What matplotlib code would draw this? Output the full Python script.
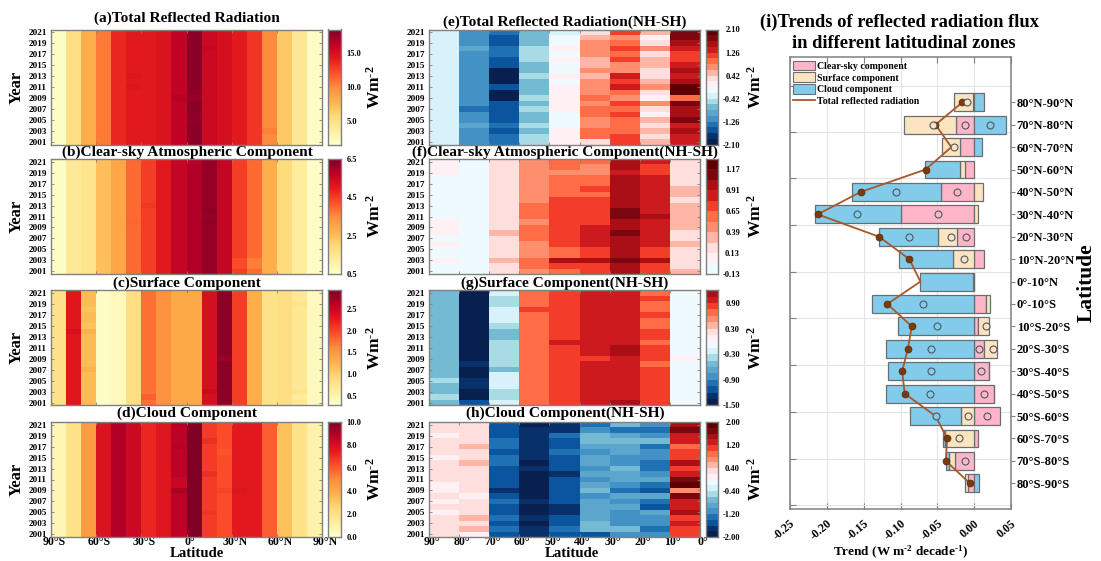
import numpy as np
import matplotlib
matplotlib.use("Agg")
import matplotlib.pyplot as plt
from matplotlib.colors import ListedColormap, BoundaryNorm, Normalize
from matplotlib.patches import Patch
from matplotlib.lines import Line2D
from matplotlib.transforms import ScaledTranslation

plt.rcParams['font.family'] = ['Liberation Serif', 'DejaVu Serif']
plt.rcParams['font.weight'] = 'bold'
plt.rcParams['mathtext.fontset'] = 'custom'
plt.rcParams['mathtext.rm'] = 'Liberation Serif:bold'
plt.rcParams['mathtext.bf'] = 'Liberation Serif:bold'
plt.rcParams['mathtext.it'] = 'Liberation Serif:bold'
plt.rcParams['mathtext.default'] = 'bf'
plt.rcParams['axes.unicode_minus'] = False

years = list(range(2021, 2000, -1))
year_ticks = list(range(2001, 2022, 2))

# ---- left panels: column climatology, 90S -> 90N, plus visible single-cell departures
a_cols = [1.8, 5.0, 8.0, 10.6, 13.6, 14.2, 14.2, 14.7, 16.0, 18.0, 15.5, 15.0, 14.2, 13.0, 10.0, 6.6, 4.2, 1.8]
b_cols = [0.6, 1.4, 1.6, 2.5, 3.0, 3.9, 4.5, 5.0, 5.6, 5.9, 6.2, 5.6, 4.5, 3.9, 2.8, 1.9, 1.3, 0.6]
c_cols = [0.8, 2.3, 1.2, 0.33, 0.42, 0.85, 1.75, 1.55, 1.35, 1.35, 2.4, 2.85, 2.05, 1.3, 0.8, 0.85, 0.7, 0.4]
d_cols = [0.7, 1.9, 4.5, 7.8, 9.0, 8.3, 7.2, 7.7, 8.7, 10.0, 6.7, 6.3, 7.5, 7.5, 5.9, 3.3, 1.9, 0.9]
a_cells = [(2009, 8, 16.4), (2009, 9, 17.5), (2010, 9, 17.7), (2018, 10, 15.8), (2003, 14, 10.4),
           (2013, 5, 14.5), (2011, 5, 14.5), (2006, 9, 17.8), (2005, 9, 17.8)]
b_cells = [(2003, 12, 4.3), (2002, 12, 4.3), (2003, 13, 3.7), (2002, 13, 3.7), (2010, 5, 3.95), (2013, 6, 4.6),
           (2021, 9, 5.8), (2012, 10, 6.3), (2010, 10, 6.3)]
c_cells = [(2014, 1, 2.38), (2014, 2, 1.28), (2018, 2, 1.13), (2015, 2, 1.13), (2009, 11, 2.78), (2003, 10, 2.47),
           (2002, 6, 1.85), (2019, 16, 0.77), (2002, 16, 0.64), (2003, 16, 0.77), (2007, 2, 1.28)]
d_cells = [(2009, 8, 9.1), (2011, 8, 8.4), (2010, 8, 8.4), (2018, 10, 7.0), (2012, 10, 7.0), (2009, 11, 6.5),
           (2005, 10, 6.85), (2016, 11, 6.15), (2009, 12, 7.7), (2021, 8, 8.9), (2017, 8, 8.9)]

# ---- right panels: colour-bin index read per year (2021 first), columns 90-80 ... 10-0
e_bins = [
    [-2]*21,
    [-6,-6,-6,-5,-6,-6,-6,-6,-6,-6,-6,-6,-6,-6,-7,-6,-6,-5,-6,-6,-6],
    [-7,-8,-8,-7,-7,-8,-8,-10,-10,-10,-8,-10,-10,-8,-8,-8,-8,-7,-8,-7,-7],
    [-4,-4,-4,-3,-3,-3,-4,-4,-3,-4,-4,-4,-3,-4,-3,-4,-4,-3,-4,-3,-3],
    [-2,-1,-1,0,-1,0,-1,-1,0,-1,0,0,0,0,0,-1,-1,-1,0,0,0],
    [1,2,3,3,3,2,2,3,2,3,3,3,4,3,4,4,3,3,4,4,1],
    [5,3,4,5,4,5,3,3,6,5,6,4,3,5,4,5,4,4,4,5,5],
    [2,0,1,3,1,2,2,1,1,2,3,1,0,3,1,0,2,1,2,1,2],
    [8,8,7,6,5,5,6,7,6,7,9,9,4,8,7,7,8,6,7,6,6],
]
f_bins = [
    [0,0,0,-1,-1,-1,-1,-1,-1,-1,-1,0,0,0,-1,0,-1,-1,0,-1,-1],
    [-1]*21,
    [1,1,1,1,1,1,1,1,1,1,1,1,1,2,1,1,1,1,2,1,1],
    [3,3,3,3,3,3,3,3,4,4,4,3,4,4,4,3,3,3,4,4,3],
    [4,4,3,4,4,4,4,5,5,5,5,5,5,5,5,5,4,4,7,5,4],
    [4,3,3,4,4,5,4,5,5,5,5,5,6,6,6,6,5,5,7,5,5],
    [7,7,6,7,7,7,7,7,7,8,8,7,7,8,7,7,7,7,8,7,7],
    [6,5,5,6,6,6,6,6,6,6,7,6,6,6,6,6,5,5,7,5,5],
    [1,1,1,1,1,2,2,1,2,2,2,2,2,1,1,2,1,1,1,1,2],
]
g_bins = [
    [-4,-4,-4,-4,-4,-4,-4,-4,-4,-4,-4,-4,-4,-4,-4,-4,-3,-4,-4,-3,-4],
    [-10,-10,-10,-10,-10,-10,-10,-10,-10,-10,-10,-10,-10,-9,-10,-10,-9,-9,-10,-10,-8],
    [-2,-3,-3,-2,-2,-2,-3,-4,-4,-3,-3,-3,-3,-3,-4,-2,-2,-2,-3,-3,-2],
    [4,4,4,5,4,4,4,4,4,4,4,4,4,4,4,4,4,4,4,4,4],
    [5,5,5,5,5,5,5,5,5,6,5,5,5,5,5,5,5,5,5,5,5],
    [6,6,6,6,6,6,6,6,6,6,6,6,5,6,6,6,6,6,6,6,6],
    [6,6,6,6,6,6,6,6,6,6,7,7,6,6,6,6,6,6,6,6,7],
    [4,5,4,4,5,4,4,5,5,4,5,5,5,4,5,5,5,5,5,5,5],
    [-1,-1,-1,-1,-1,-1,-1,-1,-1,-1,-1,-1,0,-1,-1,-1,-1,-1,-1,-1,-1],
]
h_bins = [
    [1,1,0,1,1,1,0,1,1,1,1,0,0,1,0,1,0,1,1,1,1],
    [1,1,1,1,2,1,1,2,1,1,1,1,1,0,1,1,1,2,1,2,0],
    [-8,-8,-8,-7,-7,-8,-7,-7,-8,-8,-8,-8,-9,-8,-7,-8,-8,-7,-8,-7,-8],
    [-10,-9,-9,-9,-9,-9,-9,-10,-9,-10,-10,-10,-10,-10,-9,-10,-10,-9,-10,-9,-9],
    [-9,-9,-7,-8,-8,-7,-8,-8,-8,-9,-8,-8,-8,-8,-8,-9,-9,-8,-8,-7,-8],
    [-7,-6,-4,-4,-5,-6,-5,-5,-6,-5,-6,-5,-4,-6,-5,-5,-5,-5,-4,-4,-8],
    [-4,-7,-5,-4,-5,-5,-6,-6,-4,-5,-5,-6,-7,-5,-6,-5,-6,-6,-6,-4,-6],
    [-6,-7,-6,-4,-7,-6,-6,-7,-7,-6,-5,-7,-8,-5,-7,-8,-5,-6,-6,-7,-6],
    [7,8,6,6,4,5,5,7,5,6,8,9,3,8,6,6,7,5,6,5,5],
]
e_step, f_step, g_step, h_step = 0.21, 0.13, 0.15, 0.20

# ---- panel i (80-90N first)
zones = ['80°N-90°N','70°N-80°N','60°N-70°N','50°N-60°N','40°N-50°N','30°N-40°N','20°N-30°N','10°N-20°N','0°-10°N',
         '0°-10°S','10°S-20°S','20°S-30°S','30°S-40°S','40°S-50°S','50°S-60°S','60°S-70°S','70°S-80°S','80°S-90°S']
clear_sky = [-0.001,-0.0245,-0.019,-0.0122,-0.0457,-0.0996,-0.023,0.0136,-0.002,0.0154,0.005,0.0136,0.0195,0.0263,0.0344,0.005,-0.0254,-0.008]
surface = [-0.026,-0.071,-0.0245,-0.0077,0.0122,0.005,-0.0263,-0.0285,0.0003,0.0059,0.0145,0.0168,0.0003,0.0003,-0.018,-0.04,-0.009,-0.004]
cloud = [0.013,0.0426,0.0113,-0.0462,-0.1196,-0.1168,-0.0797,-0.0729,-0.0711,-0.1386,-0.1033,-0.12,-0.1168,-0.12,-0.0688,-0.002,-0.004,0.0072]
total = [-0.016,-0.0525,-0.031,-0.066,-0.154,-0.2124,-0.129,-0.088,-0.073,-0.1178,-0.0847,-0.09,-0.0978,-0.0942,-0.0524,-0.0367,-0.0385,-0.0059]
total_filled = [1,1,0,1,1,1,1,1,0,1,1,1,1,1,0,1,1,1]
clear_sig = [None,-0.012,None,None,-0.023,-0.0494,-0.0113,None,None,None,None,0.0068,0.0095,0.013,0.0177,None,-0.0122,None]
surface_sig = [-0.010,-0.056,-0.027,None,None,None,-0.032,-0.014,None,None,0.016,0.0258,None,None,-0.0086,-0.02,None,None]
cloud_sig = [None,0.021,None,None,-0.106,-0.1585,-0.089,None,None,-0.0693,-0.051,-0.059,-0.058,-0.06,-0.052,None,None,None]
trend_ticks = [-0.25,-0.20,-0.15,-0.10,-0.05,0.00,0.05]

DIV = ['#07204f','#08306b','#0b559f','#2070b4','#4292c6','#5ca5cc','#74bad3','#a8dbe3','#d8f2fb','#eefaff',
       '#fff0f3','#ffdede','#ffb6a6','#ff8e6e','#ff6c46','#f43c2a','#cc1a1e','#a90f14','#7a0710','#5c0000']
GRAY = '#808080'
C_CLEAR, C_SURF, C_CLOUD = '#ffb6c8', '#fde4c0', '#82cbea'
W, H = 1101, 561
fig = plt.figure(figsize=(W/100, H/100), dpi=100)

def box(x0, y0, x1, y1, **kw):
    return fig.add_axes([x0/W, 1-y1/H, (x1-x0)/W, (y1-y0)/H], **kw)

def ftext(x, y, s, **kw):
    kw.setdefault('ha', 'center'); kw.setdefault('va', 'center'); kw.setdefault('zorder', -1)
    fig.text(x/W, 1-y/H, s, **kw)

def style_heat(ax, n):
    for s in ax.spines.values():
        s.set_color(GRAY); s.set_linewidth(1.0)
    ax.set_yticks(year_ticks)
    ax.tick_params(axis='both', direction='in', length=2, width=0.6, color=GRAY, top=True, right=True,
                   labelsize=6.6, pad=3)
    ax.tick_params(axis='x', pad=-1)
    ax.set_xlim(0, n); ax.set_ylim(2000.5, 2021.5)

def shift_xlabels(ax, px):
    off = ScaledTranslation(px/100, 0, fig.dpi_scale_trans)
    for lb in ax.get_xticklabels():
        lb.set_transform(lb.get_transform() + off)

UNIT = r'Wm$^{\text{-}2}$'
ROWS = [(29.5, 144.7), (159, 274), (290.3, 405.3), (422, 537)]
LEFT = [(a_cols, a_cells, 1.5, 18.4, [5, 10, 15], ['5.0', '10.0', '15.0'], '(a)Total Reflected Radiation', 18.5),
        (b_cols, b_cells, 0.5, 6.5, [0.5, 2.5, 4.5, 6.5], ['0.5', '2.5', '4.5', '6.5'], '(b)Clear-sky Atmospheric Component', 152.5),
        (c_cols, c_cells, 0.28, 2.93, [0.5, 1, 1.5, 2, 2.5], ['0.5', '1.0', '1.5', '2.0', '2.5'], '(c)Surface Component', 283),
        (d_cols, d_cells, 0, 10, [0, 2, 4, 6, 8, 10], ['0.0', '2.0', '4.0', '6.0', '8.0', '10.0'], '(d)Cloud Component', 413.7)]
cmap_seq = plt.get_cmap('YlOrRd')

def year_edges():
    return np.arange(2000.5, 2022.5, 1)

for r, (cols, cells, lo, hi, tks, tls, title, ty) in enumerate(LEFT):
    y0, y1 = ROWS[r]
    ax = box(51, y0, 322, y1)
    Z = np.tile(np.array(cols, float), (21, 1))
    for yr, c, v in cells:
        Z[yr-2001, c] = v
    norm = Normalize(lo, hi)
    ax.pcolormesh(np.arange(19), year_edges(), Z, cmap=cmap_seq, norm=norm)
    style_heat(ax, 18)
    ax.set_xticks([0, 3, 6, 9, 12, 15, 18])
    if r == 3:
        ax.set_xticklabels(['90°S', '60°S', '30°S', '0°', '30°N', '60°N', '90°N'], fontsize=8.5)
        shift_xlabels(ax, 3)
        ftext(197, 553.8, 'Latitude', fontsize=10.6, zorder=3)
    else:
        ax.set_xticklabels([])
    ftext(187, ty, title, fontsize=11.1)
    ftext(17, (y0+y1)/2, 'Year', fontsize=12, rotation=90)
    cax = box(328, y0, 341, y1)
    grad = np.linspace(lo, hi, 257)
    cax.pcolormesh([0, 1], grad, ((grad[:-1]+grad[1:])/2)[:, None], cmap=cmap_seq, norm=norm)
    cax.set_xticks([]); cax.yaxis.tick_right()
    cax.set_yticks(tks); cax.set_yticklabels(tls, fontsize=6)
    cax.tick_params(axis='y', length=0, pad=4)
    for s in cax.spines.values():
        s.set_color(GRAY); s.set_linewidth(1.0)
    ftext(375, (y0+y1)/2, UNIT, fontsize=12.5, rotation=90)

RIGHT = [(e_bins, e_step, -2.10, 2.10, [-2.10, -1.26, -0.42, 0.42, 1.26, 2.10], '(e)Total Reflected Radiation(NH-SH)', 22),
         (f_bins, f_step, -0.13, 1.30, [-0.13, 0.13, 0.39, 0.65, 0.91, 1.17], '(f)Clear-sky Atmospheric Component(NH-SH)', 152),
         (g_bins, g_step, -1.50, 1.20, [-1.50, -0.90, -0.30, 0.30, 0.90], '(g)Surface Component(NH-SH)', 283),
         (h_bins, h_step, -2.00, 2.00, [-2.00, -1.20, -0.40, 0.40, 1.20, 2.00], '(h)Cloud Component(NH-SH)', 413.7)]
cmap_div = ListedColormap(DIV)
for r, (bins, step, lo, hi, tks, title, ty) in enumerate(RIGHT):
    y0, y1 = ROWS[r]
    ax = box(429, y0, 700, y1)
    Z = (np.array(bins, float).T + 0.5) * step
    Z = Z[::-1]
    edges = step*np.arange(-10, 11)
    norm = BoundaryNorm(edges, 20)
    ax.pcolormesh(np.arange(10), year_edges(), Z, cmap=cmap_div, norm=norm)
    style_heat(ax, 9)
    ax.set_xticks(range(10))
    if r == 3:
        ax.set_xticklabels(['90°', '80°', '70°', '60°', '50°', '40°', '30°', '20°', '10°', '0°'], fontsize=8.5)
        shift_xlabels(ax, 3)
        ftext(572, 553.8, 'Latitude', fontsize=10.6, zorder=3)
    else:
        ax.set_xticklabels([])
    ftext(565, ty, title, fontsize=11.1)
    cax = box(706, y0, 718, y1)
    vis = edges[(edges > lo-1e-6) & (edges < hi+1e-6)]
    mids = (vis[:-1]+vis[1:])/2
    cax.pcolormesh([0, 1], vis, mids[:, None], cmap=cmap_div, norm=norm)
    cax.set_xticks([]); cax.yaxis.tick_right()
    cax.set_yticks(tks); cax.set_yticklabels(['%.2f' % t for t in tks], fontsize=6, ha='right')
    cax.set_ylim(lo, hi)
    cax.tick_params(axis='y', length=0, pad=15.8)
    for s in cax.spines.values():
        s.set_color(GRAY); s.set_linewidth(1.0)
    ftext(756, (y0+y1)/2, UNIT, fontsize=12.5, rotation=90)

# ---- panel i
axi = box(790, 57, 1011, 509)
ypos = np.arange(18, 0, -1)
pos_stack = np.zeros(18); neg_stack = np.zeros(18)
for vals, col in [(clear_sky, C_CLEAR), (surface, C_SURF), (cloud, C_CLOUD)]:
    v = np.array(vals)
    left = np.where(v >= 0, pos_stack, neg_stack)
    axi.barh(ypos, v, left=left, height=0.8, color=col, edgecolor='#6a6e72', linewidth=0.9, zorder=3)
    pos_stack += np.where(v >= 0, v, 0); neg_stack += np.where(v < 0, v, 0)
axi.plot(total, ypos, '-', color='#a5592c', lw=1.3, zorder=5)
for y, x, f in zip(ypos, total, total_filled):
    if f:
        axi.plot(x, y, 'o', ms=5, mfc='#7a3a0e', mec='#5a2a08', mew=0.5, zorder=6)
for sig, col in ((clear_sig, C_CLEAR), (surface_sig, C_SURF), (cloud_sig, C_CLOUD)):
    for y, x in zip(ypos, sig):
        if x is not None:
            axi.plot(x, y, 'o', ms=5, mfc=col, mec='#505860', mew=0.8, zorder=7)
axi.set_xlim(-0.25, 0.05); axi.set_ylim(-0.147, 20.02)
axi.set_xticks(trend_ticks)
axi.set_xticklabels(['%.2f' % t for t in trend_ticks], rotation=40, ha='right', rotation_mode='anchor', fontsize=8.5)
grid_y = [0.03, 2.1, 4.18, 6.28, 8.37, 10.43, 12.53, 14.62, 16.68, 18.74]
axi.set_yticks(grid_y); axi.set_yticklabels([])
axi.grid(True, color='#e4e4e4', lw=0.8, zorder=0)
axi.set_axisbelow(True)
axi.tick_params(axis='y', direction='in', length=4, width=0.8, color=GRAY, left=True, right=False)
axi.tick_params(axis='x', direction='in', length=4, width=0.8, color=GRAY, top=True, pad=6)
for s in axi.spines.values():
    s.set_color(GRAY); s.set_linewidth(1.1)
axr = axi.twinx()
axr.set_ylim(axi.get_ylim())
axr.set_yticks(ypos); axr.set_yticklabels(zones, fontsize=9)
axr.tick_params(axis='y', direction='out', length=3, width=0.8, color=GRAY, pad=1)
for s in axr.spines.values():
    s.set_visible(False)
handles = [Patch(fc=C_CLEAR, ec='#6a6e72', lw=0.8, label='Clear-sky component'),
           Patch(fc=C_SURF, ec='#6a6e72', lw=0.8, label='Surface component'),
           Patch(fc=C_CLOUD, ec='#6a6e72', lw=0.8, label='Cloud component'),
           Line2D([], [], color='#a5592c', lw=1.3, label='Total reflected radiation')]
leg = axr.legend(handles=handles, loc='upper left', bbox_to_anchor=(0.012, 0.992), frameon=False, fontsize=7.1,
                 handlelength=2.25, handleheight=1.1, handletextpad=0.25, labelspacing=0.18, borderpad=0, borderaxespad=0)
ftext(899, 22, '(i)Trends of reflected radiation flux', fontsize=13.3)
ftext(903.5, 43, 'in different latitudinal zones', fontsize=13.3)
ftext(901, 552, r'Trend (W m$^{\text{-}2}$ decade$^{\text{-}1}$)', fontsize=9.5)
ftext(1087, 283, 'Latitude', fontsize=15.5, rotation=90)

fig.savefig('out.png', dpi=100)
